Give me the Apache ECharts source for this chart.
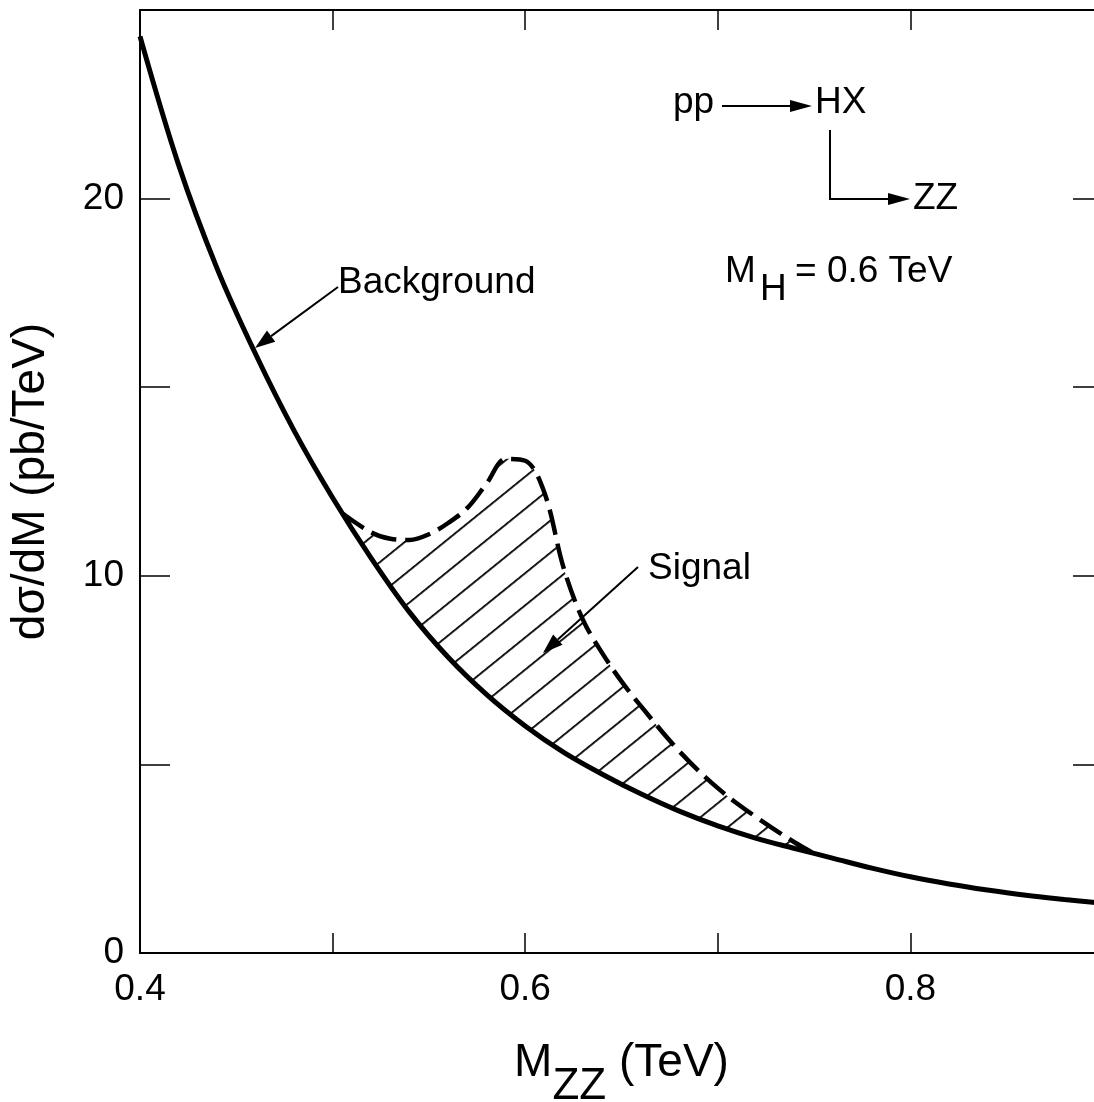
<!DOCTYPE html>
<html>
<head>
<meta charset="utf-8">
<script src="https://cdn.jsdelivr.net/npm/echarts@6/dist/echarts.min.js"></script>
<style>
  html, body { margin: 0; padding: 0; background: #fff; overflow: hidden; }
  #chart { width: 1103px; height: 1102px; }
</style>
</head>
<body>
<div id="chart"></div>
<script>
// background curve: M_ZZ (TeV) and dσ/dM (pb/TeV)
const bgMass = [0.40, 0.42, 0.44, 0.46, 0.48, 0.50, 0.52, 0.54, 0.56, 0.58, 0.60, 0.62, 0.64,
  0.66, 0.68, 0.70, 0.72, 0.74, 0.76, 0.78, 0.80, 0.82, 0.84, 0.86, 0.88, 0.90];
const background = [24.3, 20.9, 18.15, 15.88, 13.85, 12.07, 10.47, 9.03, 7.84, 6.85, 6.02, 5.32, 4.74,
  4.22, 3.76, 3.37, 3.04, 2.77, 2.51, 2.25, 2.02, 1.83, 1.67, 1.53, 1.42, 1.32];

// signal + background (dashed), only where the Higgs peak sits
const sigMass = [0.505, 0.52, 0.53, 0.54, 0.55, 0.56, 0.57, 0.58, 0.59, 0.60, 0.61, 0.62, 0.63, 0.64,
  0.65, 0.66, 0.68, 0.70, 0.72, 0.74, 0.75];
const signalTotal = [11.66, 11.15, 10.98, 10.95, 11.1, 11.4, 11.8, 12.45, 13.1, 13.05, 12.2, 10.2, 8.83, 7.95,
  7.2, 6.55, 5.35, 4.37, 3.6, 2.93, 2.64];

const xTicks = [0.4, 0.6, 0.8];
const yTicks = [0, 10, 20];

const FONT = 'Liberation Sans';

const bgData = bgMass.map((x, i) => [x, background[i]]);
const signalData = sigMass.map((x, i) => [x, signalTotal[i]]);

// hatch tile: one thin horizontal stripe, rotated by the pattern
const tile = document.createElement('canvas');
tile.width = 8;
tile.height = 25;
const tctx = tile.getContext('2d');
tctx.fillStyle = '#000';
tctx.fillRect(0, 0, 8, 1.8);
const hatch = { image: tile, repeat: 'repeat', rotation: -39 * Math.PI / 180 };

const chart = echarts.init(document.getElementById('chart'));

// arrow = line + filled head
function arrow(x1, y1, x2, y2, head, half) {
  const dx = x2 - x1, dy = y2 - y1;
  const len = Math.sqrt(dx * dx + dy * dy);
  const ux = dx / len, uy = dy / len;
  const bx = x2 - ux * head, by = y2 - uy * head;
  return [
    { type: 'line', z: 100, shape: { x1: x1, y1: y1, x2: bx, y2: by }, style: { stroke: '#000', lineWidth: 2 } },
    { type: 'polygon', z: 100, shape: { points: [[x2, y2], [bx - uy * half, by + ux * half], [bx + uy * half, by - ux * half]] },
      style: { fill: '#000' } }
  ];
}

function label(text, x, y, size) {
  return { type: 'text', x: x, y: y, z: 100,
    style: { text: text, font: (size || 37) + 'px "' + FONT + '"', fill: '#000', align: 'left', verticalAlign: 'middle' } };
}

const tickFmtX = v => xTicks.some(t => Math.abs(t - v) < 1e-6) ? v.toFixed(1) : '';
const tickFmtY = v => yTicks.indexOf(Math.round(v)) >= 0 && Math.abs(v - Math.round(v)) < 1e-6 ? String(Math.round(v)) : '';

const axisLine = { show: true, onZero: false, lineStyle: { color: '#000', width: 2 } };

const option = {
  backgroundColor: '#fff',
  animation: false,
  grid: { left: 140, right: 0, top: 10, bottom: 149, show: false, containLabel: false, outerBoundsMode: 'none' },
  xAxis: [
    {
      type: 'value', min: 0.4, max: 0.9, interval: 0.1, position: 'bottom', z: 10,
      axisLine: axisLine,
      axisTick: { show: true, inside: true, length: 20, lineStyle: { color: '#000', width: 1.5 } },
      splitLine: { show: false },
      axisLabel: { formatter: tickFmtX, color: '#000', fontFamily: FONT, fontSize: 37, margin: 18 },
      name: '{m|M}{s|ZZ}{m| (TeV)}',
      nameLocation: 'middle', nameGap: 87,
      nameTextStyle: {
        color: '#000', fontFamily: FONT, fontSize: 46,
        rich: {
          m: { fontFamily: FONT, fontSize: 46, color: '#000', lineHeight: 46, verticalAlign: 'top' },
          s: { fontFamily: FONT, fontSize: 44, color: '#000', lineHeight: 94 }
        }
      }
    },
    {
      type: 'value', min: 0.4, max: 0.9, interval: 0.1, position: 'top', z: 10,
      axisLine: axisLine,
      axisTick: { show: true, inside: true, length: 20, lineStyle: { color: '#000', width: 1.5 } },
      splitLine: { show: false }, axisLabel: { show: false }
    }
  ],
  yAxis: [
    {
      type: 'value', min: 0, max: 25, interval: 5, position: 'left', z: 10,
      axisLine: axisLine,
      axisTick: { show: true, inside: true, length: 30, lineStyle: { color: '#000', width: 1.5 } },
      splitLine: { show: false },
      axisLabel: { formatter: tickFmtY, color: '#000', fontFamily: FONT, fontSize: 37, margin: 16 },
      name: 'dσ/dM (pb/TeV)', nameLocation: 'middle', nameRotate: 90, nameGap: 86,
      nameTextStyle: { color: '#000', fontFamily: FONT, fontSize: 46 }
    },
    {
      type: 'value', min: 0, max: 25, interval: 5, position: 'right', z: 10,
      axisLine: axisLine,
      axisTick: { show: true, inside: true, length: 30, lineStyle: { color: '#000', width: 1.5 } },
      splitLine: { show: false }, axisLabel: { show: false }
    }
  ],
  series: [
    {
      // hatched area under the dashed signal curve; the background's white fill hides the part below it
      name: 'Signal', type: 'line', data: signalData,
      smooth: 0.35, showSymbol: false, z: 1,
      lineStyle: { color: '#000', width: 4.5, type: [26, 9] },
      areaStyle: { color: hatch, opacity: 1 }
    },
    {
      name: 'Background', type: 'line', data: bgData,
      smooth: 0.35, showSymbol: false, z: 2,
      lineStyle: { color: '#000', width: 5 },
      areaStyle: { color: '#fff', opacity: 1 }
    }
  ],
  graphic: [].concat(
    [label('Background', 338, 283)],
    arrow(338, 287, 255, 348, 20, 7),
    [label('Signal', 648, 569)],
    arrow(638, 567, 543, 653, 20, 7),
    [label('pp', 673, 103)],
    arrow(722, 106, 812, 106, 22, 6),
    [label('HX', 815, 103)],
    [{ type: 'polyline', z: 100, shape: { points: [[830, 130], [830, 199], [888, 199]] }, style: { stroke: '#000', lineWidth: 2, fill: null } }],
    arrow(886, 199, 910, 199, 22, 6),
    [label('ZZ', 913, 199)],
    [label('M', 725, 272), label('H', 760, 290), label('= 0.6 TeV', 795, 272)]
  )
};

chart.setOption(option);
</script>
</body>
</html>
